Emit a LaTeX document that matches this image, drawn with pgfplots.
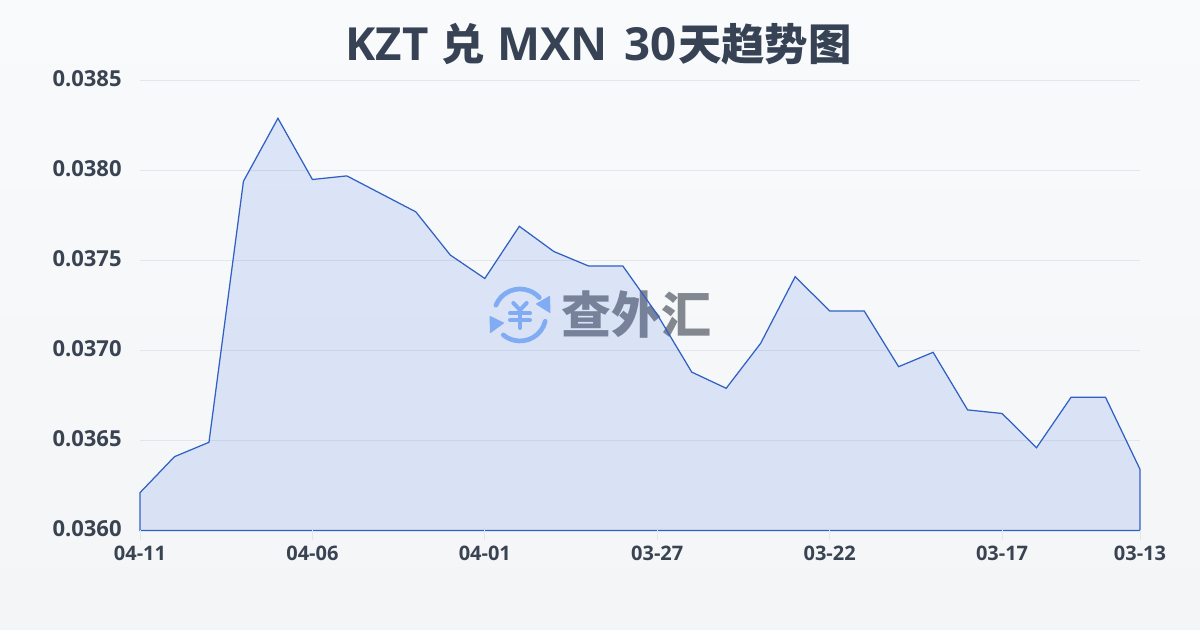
\documentclass[border=0pt]{standalone}
\usepackage{fontspec}
\usepackage{pgfplots}
\pgfplotsset{compat=1.18}
\setmainfont{Open Sans}
\newfontfamily\cjk{Noto Sans CJK SC}
\newfontfamily\lat[Kerning=Off]{Open Sans}
\definecolor{txt}{HTML}{3A4352}
\definecolor{ttl}{HTML}{374355}
\definecolor{gridc}{HTML}{E3E6EB}
\definecolor{linec}{HTML}{3060C4}
\definecolor{fillc}{HTML}{2860E0}
\definecolor{logoc}{HTML}{8FB8F6}
\definecolor{wmc}{HTML}{83878F}
\definecolor{bgt}{HTML}{F8FAFC}
\definecolor{bgb}{HTML}{F3F5F7}
\begin{document}
\begin{tikzpicture}
\begin{scope}[x=0.5pt,y=0.5pt]
\shade[top color=bgt,bottom color=bgb] (0,0) rectangle (1200,630);
\path[use as bounding box] (0,0) rectangle (1200,630);
\node[anchor=center,font=\cjk\bfseries\fontsize{25}{25}\selectfont,text=wmc,inner sep=0pt] at (636,315) {查外汇};
\begin{scope}[shift={(520,315)},draw=logoc,fill=logoc,line cap=round]
\draw[line width=2.35pt] (158:26) arc (158:42:26);
\draw[line width=2.35pt] (-14:26) arc (-14:-130:26);
\fill[draw=logoc,line width=0.5pt,line join=round] (29.5,18.5) -- (30,2.5) -- (16.5,11) -- cycle;
\fill[draw=logoc,line width=0.5pt,line join=round] (-30,-1.5) -- (-29.5,-17.5) -- (-16.5,-8) -- cycle;
\draw[line width=2pt] (-6.7,12) -- (0,5) -- (6.7,12);
\draw[line width=2pt] (0,5) -- (0,-13);
\draw[line width=2pt] (-10,1.7) -- (10,1.7);
\draw[line width=2pt] (-10,-5) -- (10,-5);
\end{scope}
\node[anchor=west,inner sep=0pt,text=ttl,font=\bfseries\fontsize{22.8}{22.8}\selectfont] at (345,585.5) {{\lat KZT}\hspace{6.5pt}{\cjk\fontsize{21.7}{22}\selectfont 兑}\hspace{6.3pt}{\lat MXN}\hspace{8.5pt}{\lat 30}\hspace{0.5pt}{\cjk\fontsize{21.7}{22}\selectfont 天趋势图}};
\end{scope}
\begin{axis}[
  at={(70pt,49.75pt)},anchor=south west,
  scale only axis,width=500pt,height=225pt,
  xmin=0,xmax=29,ymin=0.036,ymax=0.0385,
  axis x line*=bottom,axis y line*=left,
  axis line style={draw=none},
  xtick={0,5,10,15,20,25,29},
  xticklabels={04-11,04-06,04-01,03-27,03-22,03-17,03-13},
  ytick={0.036,0.0365,0.037,0.0375,0.038,0.0385},
  yticklabel style={/pgf/number format/fixed,/pgf/number format/fixed zerofill,/pgf/number format/precision=4,/pgf/number format/assume math mode=true,font=\bfseries\fontsize{11}{11}\selectfont,text=txt,inner sep=0pt,anchor=east,xshift=-9pt,yshift=1pt},
  xticklabel style={font=\bfseries\fontsize{10}{10}\selectfont,text=txt,inner sep=0pt,anchor=north,yshift=-7.5pt},
  scaled y ticks=false,
  ymajorgrids,
  grid style={draw=gridc,line width=0.5pt},
  major tick length=0pt,
  clip=false,
]
\addplot[draw=linec,line width=0.62pt,fill=fillc,fill opacity=0.13] coordinates {
(0,0.03621)(1,0.03641)(2,0.03649)(3,0.03794)(4,0.03829)(5,0.03795)(6,0.03797)(7,0.03787)(8,0.03777)(9,0.03753)(10,0.0374)(11,0.03769)(12,0.03755)(13,0.03747)(14,0.03747)(15,0.0372)(16,0.03688)(17,0.03679)(18,0.03704)(19,0.03741)(20,0.03722)(21,0.03722)(22,0.03691)(23,0.03699)(24,0.03667)(25,0.03665)(26,0.03646)(27,0.03674)(28,0.03674)(29,0.03634)
} \closedcycle;
\end{axis}
\begin{scope}[x=0.5pt,y=0.5pt]
\draw[gridc,line width=0.5pt] \foreach \x in {140,312.4,484.8,657.2,829.7,1002.1,1140} {(\x,99.5)--(\x,89.5)};
\end{scope}
\end{tikzpicture}
\end{document}
